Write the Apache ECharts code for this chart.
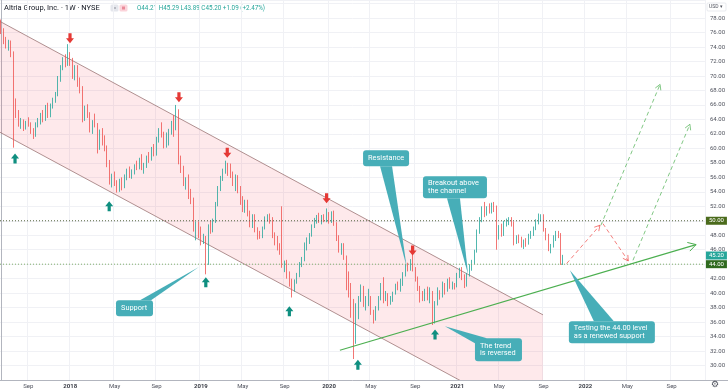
<!DOCTYPE html>
<html><head><meta charset="utf-8">
<script src="https://cdn.jsdelivr.net/npm/echarts@6/dist/echarts.min.js"></script>
<style>html,body{margin:0;padding:0;background:#fff}#c{width:728px;height:391px}</style>
</head><body><div id="c"></div>
<script>
// ---------- DATA ----------
const symbolTitle = 'Altria Group, Inc. · 1W · NYSE';
const firstWeek = [2017, 5, 19];   // Monday 2017-06-19
const weekCount = 286;             // weekly slots shown on the axis (through Dec 2022)

const opens = [77.2,76.1,74.7,74.1,74.3,73.0,66.5,64.6,63.4,63.8,62.9,63.5,63.3,62.4,61.8,63.4,63.7,64.6,64.0,65.6,64.7,65.9,66.6,67.5,69.7,71.2,72.3,71.7,72.5,72.0,70.2,70.9,69.0,68.2,64.2,65.4,64.5,62.6,63.6,63.2,60.2,62.3,61.0,59.9,57.8,55.6,56.1,55.1,54.3,55.4,54.7,56.0,57.0,56.3,56.8,57.6,57.4,58.5,57.3,57.6,58.8,58.5,59.9,59.3,61.3,62.5,61.9,60.3,61.8,62.4,63.5,62.7,65.0,58.3,57.0,55.2,55.6,53.8,52.8,49.0,49.4,48.0,47.2,47.6,44.2,49.3,48.6,50.0,52.3,54.5,55.8,56.9,57.5,57.4,56.3,55.2,56.1,54.2,52.6,51.8,52.4,51.0,49.4,50.6,48.6,48.0,47.7,49.0,50.3,50.5,50.1,47.9,47.2,46.4,45.7,43.9,44.1,42.5,41.4,40.6,41.7,42.4,44.1,44.6,46.6,47.2,48.0,49.2,50.0,50.5,50.1,50.6,50.0,50.9,49.9,51.0,49.5,47.5,46.0,46.5,44.9,41.3,40.2,38.7,33.9,38.2,39.3,40.0,38.6,38.9,39.3,37.3,36.4,37.9,39.2,40.8,39.4,39.8,38.6,39.3,40.0,41.1,41.0,41.2,42.6,43.7,43.5,44.3,43.3,42.0,40.6,39.4,39.1,40.3,39.3,40.2,36.1,38.6,40.2,39.5,40.8,40.4,41.8,41.0,41.2,41.0,42.4,43.1,42.2,41.0,42.5,43.7,44.3,45.8,48.5,50.1,51.5,51.2,51.8,51.3,52.2,51.9,47.8,49.0,48.1,49.6,49.9,50.0,49.6,47.1,47.6,47.3,46.6,47.1,46.9,47.9,48.1,48.9,49.9,50.5,50.6,48.8,47.6,46.1,46.5,47.6,48.3,48.1,44.21];
const highs = [77.8,76.6,75.4,75.0,74.9,73.4,66.9,65.3,64.2,64.0,63.8,64.3,63.6,62.8,63.6,64.2,64.9,65.3,66.0,66.3,66.2,67.0,67.8,70.0,71.5,72.6,73.0,74.4,73.3,72.5,71.5,71.5,69.8,68.6,65.9,66.1,65.0,63.9,64.8,63.5,62.6,62.8,61.8,60.4,58.4,56.5,56.8,55.6,55.8,56.0,56.4,57.2,57.5,57.1,57.8,58.3,58.7,59.2,58.0,59.0,59.5,60.2,60.6,61.6,62.8,63.6,62.3,62.2,62.7,63.8,64.6,66.0,65.4,59.0,57.6,56.0,56.4,54.4,53.2,49.9,49.9,49.2,48.2,47.9,49.5,50.0,50.3,52.6,54.8,56.2,57.2,58.3,58.0,57.9,56.8,56.4,56.3,54.8,53.4,52.9,52.9,51.4,50.9,50.9,49.1,48.6,49.2,50.6,50.9,51.0,50.5,48.4,47.9,46.9,52.0,44.5,44.6,43.0,42.0,41.9,42.8,44.3,45.0,47.0,47.7,48.3,49.5,50.4,50.8,51.1,50.8,50.9,51.7,51.2,51.3,51.4,49.8,48.0,46.9,46.9,45.2,43.0,41.4,39.2,38.6,39.6,41.2,41.0,39.6,40.6,39.6,37.7,38.2,39.6,41.4,42.2,40.3,40.0,39.6,40.2,41.3,41.6,42.0,42.9,44.0,44.2,44.7,45.3,43.6,42.3,41.0,40.3,40.6,40.9,40.8,40.3,38.9,40.8,40.4,41.6,41.4,42.0,42.2,41.6,41.4,42.8,43.5,43.6,42.6,42.8,44.0,44.6,46.0,48.8,50.5,52.0,52.6,52.0,52.4,52.5,52.6,52.1,49.4,49.6,50.0,50.3,50.5,50.5,49.9,48.0,48.1,47.8,47.4,47.6,48.2,48.6,49.2,50.2,51.0,50.9,50.9,49.0,48.2,46.8,48.0,48.6,48.6,48.3,45.29];
const lows = [75.8,74.4,73.8,73.5,72.6,60.1,64.2,63.0,62.7,62.4,62.6,63.0,62.0,61.3,61.6,62.9,63.3,63.6,63.8,64.2,64.3,65.5,66.3,67.2,69.2,70.8,71.2,71.4,71.4,69.6,69.4,68.5,67.6,63.6,63.8,64.2,62.2,62.0,62.9,59.3,59.8,60.4,59.6,57.4,55.0,54.6,54.8,53.9,54.0,54.2,54.5,55.6,55.9,55.8,56.4,57.0,57.1,57.0,56.5,57.3,58.0,58.3,58.9,59.0,60.8,61.5,60.0,60.1,60.4,61.9,61.6,62.5,57.8,56.6,54.8,54.3,53.0,52.3,48.5,47.3,47.6,46.6,46.8,42.6,43.9,48.2,48.4,49.7,52.0,54.1,55.5,56.5,56.2,55.9,54.8,54.1,53.8,52.2,51.2,51.1,50.6,49.1,49.0,48.4,47.4,47.5,47.6,48.8,49.9,49.6,47.6,46.6,45.9,45.3,43.5,42.9,42.0,40.9,39.4,40.2,41.3,42.2,43.6,44.4,45.9,46.8,47.8,49.0,49.6,49.7,49.5,49.8,49.8,49.6,49.7,49.3,47.2,45.6,45.3,44.6,40.4,39.4,36.6,30.9,33.0,36.4,38.8,38.1,37.6,38.2,37.0,35.8,36.2,37.6,39.0,38.6,38.9,38.2,38.4,38.8,39.8,40.4,40.2,41.0,42.3,43.0,43.1,43.0,41.6,40.3,38.7,38.9,38.9,39.0,38.6,35.6,35.8,38.3,39.1,39.4,39.8,40.2,40.6,40.5,40.5,40.8,42.1,41.8,40.7,40.9,42.3,43.1,44.0,45.6,48.2,49.8,50.5,50.7,51.0,51.0,51.2,46.0,47.4,47.8,47.9,49.2,49.4,49.2,46.6,46.8,46.9,46.3,46.1,46.4,46.7,47.5,47.9,48.7,49.5,49.9,48.5,47.3,45.8,45.5,46.3,47.2,47.6,43.9,43.89];
const closes = [76.1,74.7,74.1,74.3,73.0,66.5,64.6,63.4,63.8,62.9,63.5,63.3,62.4,61.8,63.4,63.7,64.6,64.0,65.6,64.7,65.9,66.6,67.5,69.7,71.2,72.3,71.7,72.5,72.0,70.2,70.9,69.0,68.2,64.2,65.4,64.5,62.6,63.6,63.2,60.2,62.3,61.0,59.9,57.8,55.6,56.1,55.1,54.3,55.4,54.7,56.0,57.0,56.3,56.8,57.6,57.4,58.5,57.3,57.6,58.8,58.5,59.9,59.3,61.3,62.5,61.9,60.3,61.8,62.4,63.5,62.7,65.0,58.3,57.0,55.2,55.6,53.8,52.8,49.0,49.4,48.0,47.2,47.6,44.2,49.3,48.6,50.0,52.3,54.5,55.8,56.9,57.5,57.4,56.3,55.2,56.1,54.2,52.6,51.8,52.4,51.0,49.4,50.6,48.6,48.0,47.7,49.0,50.3,50.5,50.1,47.9,47.2,46.4,45.7,43.9,44.1,42.5,41.4,40.6,41.7,42.4,44.1,44.6,46.6,47.2,48.0,49.2,50.0,50.5,50.1,50.6,50.0,50.9,49.9,51.0,49.5,47.5,46.0,46.5,44.9,41.3,40.2,38.7,33.9,38.2,39.3,40.0,38.6,38.9,39.3,37.3,36.4,37.9,39.2,40.8,39.4,39.8,38.6,39.3,40.0,41.1,41.0,41.2,42.6,43.7,43.5,44.3,43.3,42.0,40.6,39.4,39.1,40.3,39.3,40.2,36.1,38.6,40.2,39.5,40.8,40.4,41.8,41.0,41.2,41.0,42.4,43.1,42.2,41.0,42.5,43.7,44.3,45.8,48.5,50.1,51.5,51.2,51.8,51.3,52.2,51.9,47.8,49.0,48.1,49.6,49.9,50.0,49.6,47.1,47.6,47.3,46.6,47.1,46.9,47.9,48.1,48.9,49.9,50.5,50.6,48.8,47.6,46.1,46.5,47.6,48.3,48.1,44.1,45.20];
const lastChange = '+1.09 (+2.47%)';

const priceScale = { min: 28, max: 80.5, step: 2 };
const resistanceLevel = 50.00;
const supportLevel = 44.00;

// drawings, in (week index, price)
const channelUpper = [[-0.5, 77.54], [219.8, 37.0]];
const channelLower = [[-0.5, 62.22], [219.8, 21.76]];
const trendLine = [[137.4, 32.11], [281.9, 46.71]];
const redPaths = [[[229.4, 44.09], [242.9, 49.38]], [[244.1, 49.61], [254.4, 44.45]]];
const greenPaths = [[[243.3, 49.38], [267.3, 68.84]], [[256.3, 44.54], [279.4, 63.32]]];
const topArrows = [[27.9, 75.2], [72.1, 67.05], [91.7, 59.4], [132.0, 53.1], [166.9, 45.9]];
const bottomArrows = [[5.6, 58.6], [43.8, 52.0], [83.0, 41.5], [116.9, 37.5], [144.7, 30.1], [176.0, 34.3]];
const calloutTexts = [['Support'], ['Resistance'], ['Breakout above', 'the channel'], ['The trend', 'is reversed'], ['Testing the 44.00 level', 'as a renewed support']];
const calloutTips = [[80.2, 43.62], [164.5, 43.62], [189.4, 42.6], [180.0, 35.43], [230.7, 43.16]];
const calloutAnchors = [[46.56, 39.02], [146.8, 59.73], [171.1, 56.14], [192.2, 33.77], [230.3, 36.12]];

// ---------- BUILD ----------
const weeks = [];
for (let i = 0; i < weekCount; i++) {
  const d = new Date(Date.UTC(firstWeek[0], firstWeek[1], firstWeek[2]) + i * 7 * 864e5);
  weeks.push(d.toISOString().slice(0, 10));
}
function axisText(s) {
  const m = +s.slice(5, 7), d = +s.slice(8, 10);
  if (d > 7) return null;
  if (m === 1) return '{y|' + s.slice(0, 4) + '}';
  if (m === 5) return 'May';
  if (m === 9) return 'Sep';
  return null;
}
const candles = closes.map((c, i) => [opens[i], c, lows[i], highs[i]]);

const FONT = 'Roboto, "Noto Sans", sans-serif';
const calloutSizes = [[37, 16, [[24, 0], [35, 0]]], [46, 16, [[17, 16], [29, 16]]], [64, 22, [[24, 22], [37, 22]]], [47, 23, [[0, 5], [12, 0]]], [86, 22, [[25, 0], [45, 0]]]];
const TEAL = '#26a69a', RED = '#ef5350';

function seg(a, b, style) { return { type: 'line', shape: { x1: a[0], y1: a[1], x2: b[0], y2: b[1] }, style: style }; }
function chevron(a, b, len, color) {
  const dx = b[0] - a[0], dy = b[1] - a[1], d = Math.hypot(dx, dy), ux = dx / d, uy = dy / d, t = Math.PI / 6;
  const w = s => [b[0] - len * (ux * Math.cos(s) - uy * Math.sin(s)), b[1] - len * (ux * Math.sin(s) + uy * Math.cos(s))];
  return { type: 'polyline', shape: { points: [w(t), b, w(-t)] }, style: { stroke: color, lineWidth: 1, fill: null } };
}

const chart = echarts.init(document.getElementById('c'), null, { renderer: 'canvas' });
chart.setOption({
  animation: false,
  backgroundColor: '#fff',
  grid: { left: 0, right: 23, top: 0, bottom: 11 },
  xAxis: [{
    type: 'category', data: weeks, boundaryGap: true,
    axisLine: { show: true, lineStyle: { color: '#b2b5be', width: 1 } },
    axisTick: { show: false },
    axisLabel: {
      interval: (i, v) => axisText(v) !== null, formatter: v => axisText(v) || '',
      fontSize: 6, color: '#50535e', margin: 3, fontFamily: FONT,
      rich: { y: { fontSize: 6, fontWeight: 'bold', color: '#3a3d46', fontFamily: FONT } }
    },
    splitLine: { show: true, interval: (i, v) => axisText(v) !== null, lineStyle: { color: '#f0f1f5', width: 1 } }
  }, {
    type: 'value', min: -0.5, max: weekCount - 0.5, show: false
  }],
  yAxis: [{
    type: 'value', position: 'right', min: priceScale.min, max: priceScale.max, interval: priceScale.step,
    axisLine: { show: true, lineStyle: { color: '#b2b5be', width: 1 } },
    axisTick: { show: false },
    axisLabel: { fontSize: 6, color: '#50535e', margin: 5, fontFamily: FONT,
      formatter: v => (v <= priceScale.min || v >= 80) ? '' : v.toFixed(2) },
    splitLine: { show: true, lineStyle: { color: '#f0f1f5', width: 1 } }
  }],
  graphic: [
    { type: 'text', x: 4, y: 8, style: { text: symbolTitle, font: '7.5px ' + FONT, fill: '#131722', verticalAlign: 'middle' } },
    { type: 'rect', shape: { x: 110.5, y: 4.5, width: 8, height: 7, r: 1.5 }, style: { fill: '#e4e6ec' } },
    { type: 'rect', shape: { x: 113, y: 7.5, width: 3, height: 1 }, style: { fill: '#8a8d96' } },
    { type: 'rect', shape: { x: 119.5, y: 4.5, width: 8, height: 7, r: 1.5 }, style: { fill: '#fbd3da' } },
    { type: 'rect', shape: { x: 122, y: 6.5, width: 3, height: 3 }, style: { fill: '#e88a99' } },
    { type: 'text', x: 137, y: 8, style: {
      text: 'O' + opens[opens.length - 1].toFixed(2) + ' H' + highs[highs.length - 1].toFixed(2) + ' L' + lows[lows.length - 1].toFixed(2) + ' C' + closes[closes.length - 1].toFixed(2) + ' ' + lastChange,
      font: '6.3px ' + FONT, fill: TEAL, verticalAlign: 'middle' } },
    { type: 'rect', shape: { x: 707, y: 3, width: 19, height: 8, r: 1 }, style: { fill: '#fff', stroke: '#d1d4dc', lineWidth: 0.5 }, z: 100 },
    { type: 'text', x: 709, y: 7, style: { text: 'USD ▾', font: '5px ' + FONT, fill: '#50535e', verticalAlign: 'middle' }, z: 101 },
    { type: 'line', shape: { x1: 705, y1: 380.5, x2: 728, y2: 380.5 }, style: { stroke: '#b2b5be', lineWidth: 1 } },
    { type: 'text', x: 711, y: 380.5, style: { text: '⚙', font: '9px "DejaVu Sans"', fill: '#50535e' } }
  ],
  series: [
    { // channel fill + borders
      type: 'custom', xAxisIndex: 1, yAxisIndex: 0, clip: true, z: 1, silent: true,
      data: [[0, 50]],
      renderItem: (params, api) => {
        const cs = params.coordSys;
        const u0 = api.coord(channelUpper[0]), u1 = api.coord(channelUpper[1]);
        const l0 = api.coord(channelLower[0]), l1 = api.coord(channelLower[1]);
        const border = { stroke: 'rgba(150,110,110,0.75)', lineWidth: 1 };
        return { type: 'group', clipPath: { type: 'rect', shape: { x: cs.x, y: cs.y, width: cs.width, height: cs.height } },
          children: [
            { type: 'polygon', shape: { points: [u0, u1, l1, l0] }, style: { fill: 'rgba(242,54,69,0.11)' } },
            seg(u0, u1, border), seg(l0, l1, border)
          ] };
      }
    },
    {
      type: 'candlestick', xAxisIndex: 0, yAxisIndex: 0, data: candles, z: 3, barWidth: 1.3,
      itemStyle: { color: TEAL, color0: RED, borderColor: TEAL, borderColor0: RED, borderWidth: 0.8 }
    },
    { // lines: levels, trend, projections
      type: 'custom', xAxisIndex: 1, yAxisIndex: 0, clip: true, z: 5, silent: true,
      data: [[0, 50]],
      renderItem: (params, api) => {
        const cs = params.coordSys;
        const kids = [];
        const yR = api.coord([0, resistanceLevel])[1], yS = api.coord([0, supportLevel])[1];
        kids.push(seg([cs.x, yR], [cs.x + cs.width, yR], { stroke: '#55633f', lineWidth: 1, lineDash: [1, 2] }));
        kids.push(seg([cs.x, yS], [cs.x + cs.width, yS], { stroke: '#7fae6b', lineWidth: 1, lineDash: [1, 2] }));
        const t0 = api.coord(trendLine[0]), t1 = api.coord(trendLine[1]);
        kids.push(seg(t0, t1, { stroke: '#4caf50', lineWidth: 1.2 }));
        kids.push(chevron(t0, t1, 9, '#4caf50'));
        redPaths.forEach(p => { const a = api.coord(p[0]), b = api.coord(p[1]);
          kids.push(seg(a, b, { stroke: 'rgba(239,83,80,0.75)', lineWidth: 1, lineDash: [4, 3] }));
          kids.push(chevron(a, b, 6, 'rgba(239,83,80,0.75)')); });
        greenPaths.forEach(p => { const a = api.coord(p[0]), b = api.coord(p[1]);
          kids.push(seg(a, b, { stroke: 'rgba(76,175,80,0.7)', lineWidth: 1, lineDash: [4, 3] }));
          kids.push(chevron(a, b, 6, 'rgba(76,175,80,0.7)')); });
        return { type: 'group', children: kids };
      }
    },
    {
      type: 'scatter', xAxisIndex: 1, yAxisIndex: 0, z: 6, silent: true, data: topArrows,
      symbol: 'path://M3,0L7,0L7,5L10,5L5,10L0,5L3,5Z', symbolSize: [8, 10], itemStyle: { color: '#e53935', opacity: 1 }
    },
    {
      type: 'scatter', xAxisIndex: 1, yAxisIndex: 0, z: 6, silent: true, data: bottomArrows,
      symbol: 'path://M5,0L10,5L7,5L7,10L3,10L3,5L0,5Z', symbolSize: [8, 10], itemStyle: { color: '#0f8f80', opacity: 1 }
    },
    { // callouts
      type: 'custom', xAxisIndex: 1, yAxisIndex: 0, clip: false, z: 8, silent: true,
      data: calloutTexts.map((t, i) => [i, 50]),
      renderItem: (params, api) => {
        const i = params.dataIndex;
        const tip = api.coord(calloutTips[i]), bx = api.coord(calloutAnchors[i]);
        const [w, h, base] = calloutSizes[i];
        const col = '#47aeb8';
        const lines = calloutTexts[i];
        const kids = [
          { type: 'polygon', shape: { points: [tip, [bx[0] + base[0][0], bx[1] + base[0][1]], [bx[0] + base[1][0], bx[1] + base[1][1]]] }, style: { fill: col } },
          { type: 'rect', shape: { x: bx[0], y: bx[1], width: w, height: h, r: 3 }, style: { fill: col } }
        ];
        const lh = 7.4, startY = bx[1] + h / 2 - (lines.length - 1) * lh / 2;
        lines.forEach((s, k) => kids.push({ type: 'text', style: { text: s, x: bx[0] + 5, y: startY + k * lh, fill: '#fff', font: '7.4px ' + FONT, align: 'left', verticalAlign: 'middle' } }));
        return { type: 'group', children: kids };
      }
    },
    { // price tags on the scale
      type: 'custom', xAxisIndex: 1, yAxisIndex: 0, clip: false, z: 9, silent: true,
      data: [resistanceLevel, closes[closes.length - 1], supportLevel].map(v => [0, v]),
      renderItem: (params, api) => {
        const cs = params.coordSys;
        const v = api.value(1), y = api.coord([0, v])[1];
        const colors = ['#4b6b1c', TEAL, '#2f6a1f'];
        return { type: 'group', children: [
          { type: 'rect', shape: { x: cs.x + cs.width + 1, y: y - 4, width: 21, height: 8 }, style: { fill: colors[params.dataIndex] } },
          { type: 'text', style: { text: v.toFixed(2), x: cs.x + cs.width + 11.5, y: y, fill: '#fff', font: '6px ' + FONT, align: 'center', verticalAlign: 'middle' } }
        ] };
      }
    }
  ]
});
</script>
</body></html>
